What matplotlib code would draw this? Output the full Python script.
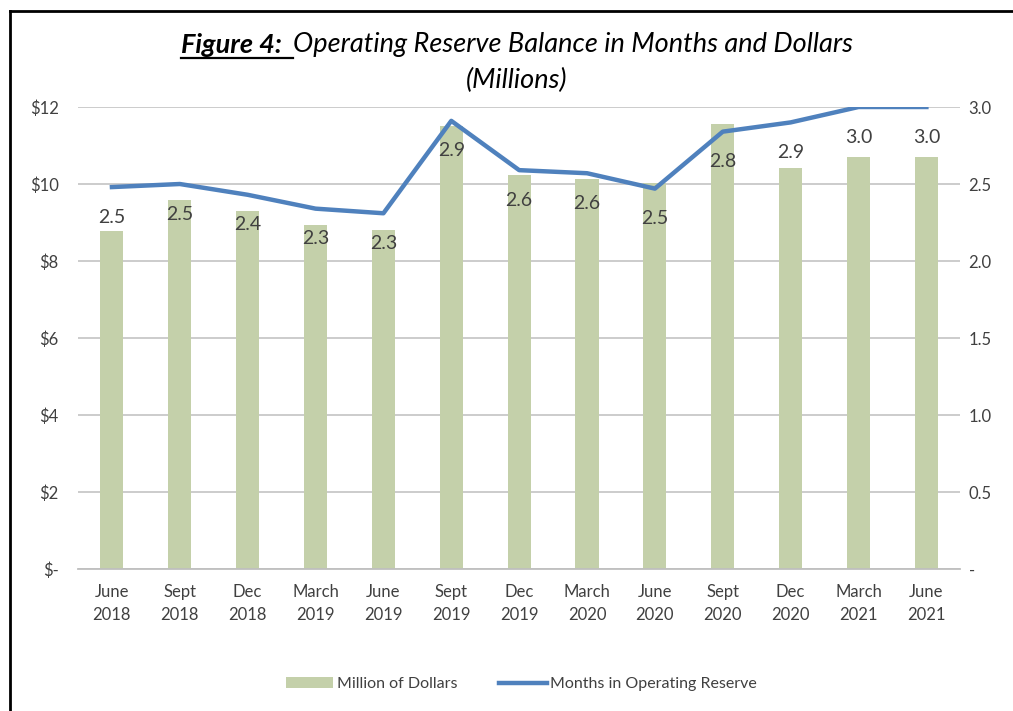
import matplotlib
matplotlib.use("Agg")
import matplotlib.pyplot as plt
from matplotlib.patches import Patch
from matplotlib.lines import Line2D
import numpy as np

plt.rcParams['font.family'] = ['Lato', 'DejaVu Sans']

# data
periods = ["June\n2018", "Sept\n2018", "Dec\n2018", "March\n2019", "June\n2019", "Sept\n2019",
           "Dec\n2019", "March\n2020", "June\n2020", "Sept\n2020", "Dec\n2020", "March\n2021", "June\n2021"]
dollars = [8.78, 9.58, 9.30, 8.94, 8.80, 11.50, 10.23, 10.13, 10.03, 11.56, 10.42, 10.70, 10.70]
months = [2.48, 2.50, 2.43, 2.34, 2.31, 2.91, 2.59, 2.57, 2.47, 2.84, 2.90, 3.00, 3.00]
left_ticks = [0, 2, 4, 6, 8, 10, 12]
left_labels = ["$-", "$2", "$4", "$6", "$8", "$10", "$12"]
right_ticks = [0, 0.5, 1.0, 1.5, 2.0, 2.5, 3.0]
right_labels = ["-", "0.5", "1.0", "1.5", "2.0", "2.5", "3.0"]

bar_col = "#C4D0AA"
line_col = "#4F81BD"
txt_col = "#404040"

fig = plt.figure(figsize=(10.13, 7.11), dpi=100)
ax = fig.add_axes([0.077, 0.1997, 0.871, 0.6498])
x = np.arange(len(periods))
ax.bar(x, dollars, width=0.34, color=bar_col, zorder=2)
ax.set_xlim(-0.5, len(periods) - 0.5)
ax.set_ylim(0, 12)
ax.set_yticks(left_ticks)
ax.set_yticklabels(left_labels)
ax.set_xticks(x)
ax.set_xticklabels(periods, linespacing=1.5)
ax.grid(axis='y', color="#C8C8C8", linewidth=1.3, zorder=0)
ax.set_axisbelow(True)
for s in ['top', 'right', 'left']:
    ax.spines[s].set_visible(False)
ax.spines['bottom'].set_color("#BFBFBF")
ax.spines['bottom'].set_linewidth(1.3)
ax.tick_params(axis='both', length=0, labelsize=12, colors=txt_col)
ax.tick_params(axis='y', pad=14)
ax.tick_params(axis='x', pad=11)

ax2 = ax.twinx()
ax2.plot(x, months, color=line_col, linewidth=3.2, zorder=3)
ax2.set_ylim(0, 3)
ax2.set_yticks(right_ticks)
ax2.set_yticklabels(right_labels)
for s in ax2.spines.values():
    s.set_visible(False)
ax2.tick_params(axis='y', length=0, labelsize=12, colors=txt_col, pad=6)
for xi, v in zip(x, months):
    ax2.annotate(f"{v:.1f}", (xi, v), textcoords='offset pixels', xytext=(0, -30),
                 ha='center', va='center', fontsize=14, color=txt_col, zorder=4)

# title: bold underlined prefix + italic remainder
fig.canvas.draw()
r = fig.canvas.get_renderer()
t1 = fig.text(0, 0.937, "Figure 4:  ", fontsize=19.5, fontweight='bold', fontstyle='italic',
              color='black', va='center', ha='left')
t2 = fig.text(0, 0.937, "Operating Reserve Balance in Months and Dollars", fontsize=19.5,
              fontstyle='italic', color='black', va='center', ha='left')
w1 = t1.get_window_extent(r).width
w2 = t2.get_window_extent(r).width
start = (517 - (w1 + w2) / 2) / 1013
t1.set_x(start)
t2.set_x(start + w1 / 1013)
bb = t1.get_window_extent(r)
uy = bb.y0 / 711 - 0.001
fig.add_artist(Line2D([start, start + w1 / 1013], [uy, uy], color='black', linewidth=1.6))
fig.text(517 / 1013, 0.887, "(Millions)", fontsize=19.5, fontstyle='italic', color='black',
         ha='center', va='center')

# frame lines (left and top only)
fig.add_artist(Line2D([10 / 1013, 10 / 1013], [0, 1 - 11 / 711], color='black', linewidth=2))
fig.add_artist(Line2D([10 / 1013, 1], [1 - 11 / 711, 1 - 11 / 711], color='black', linewidth=2))

handles = [Patch(facecolor=bar_col, edgecolor='none'),
           Line2D([0], [0], color=line_col, linewidth=3.2)]
fig.legend(handles, ["Million of Dollars", "Months in Operating Reserve"], loc='center',
           bbox_to_anchor=(521 / 1013, 1 - 684 / 711), ncol=2, frameon=False, fontsize=11.5,
           handlelength=3.0, columnspacing=2.6, handletextpad=0.2, labelcolor=txt_col)

fig.savefig("out.png", dpi=100)
